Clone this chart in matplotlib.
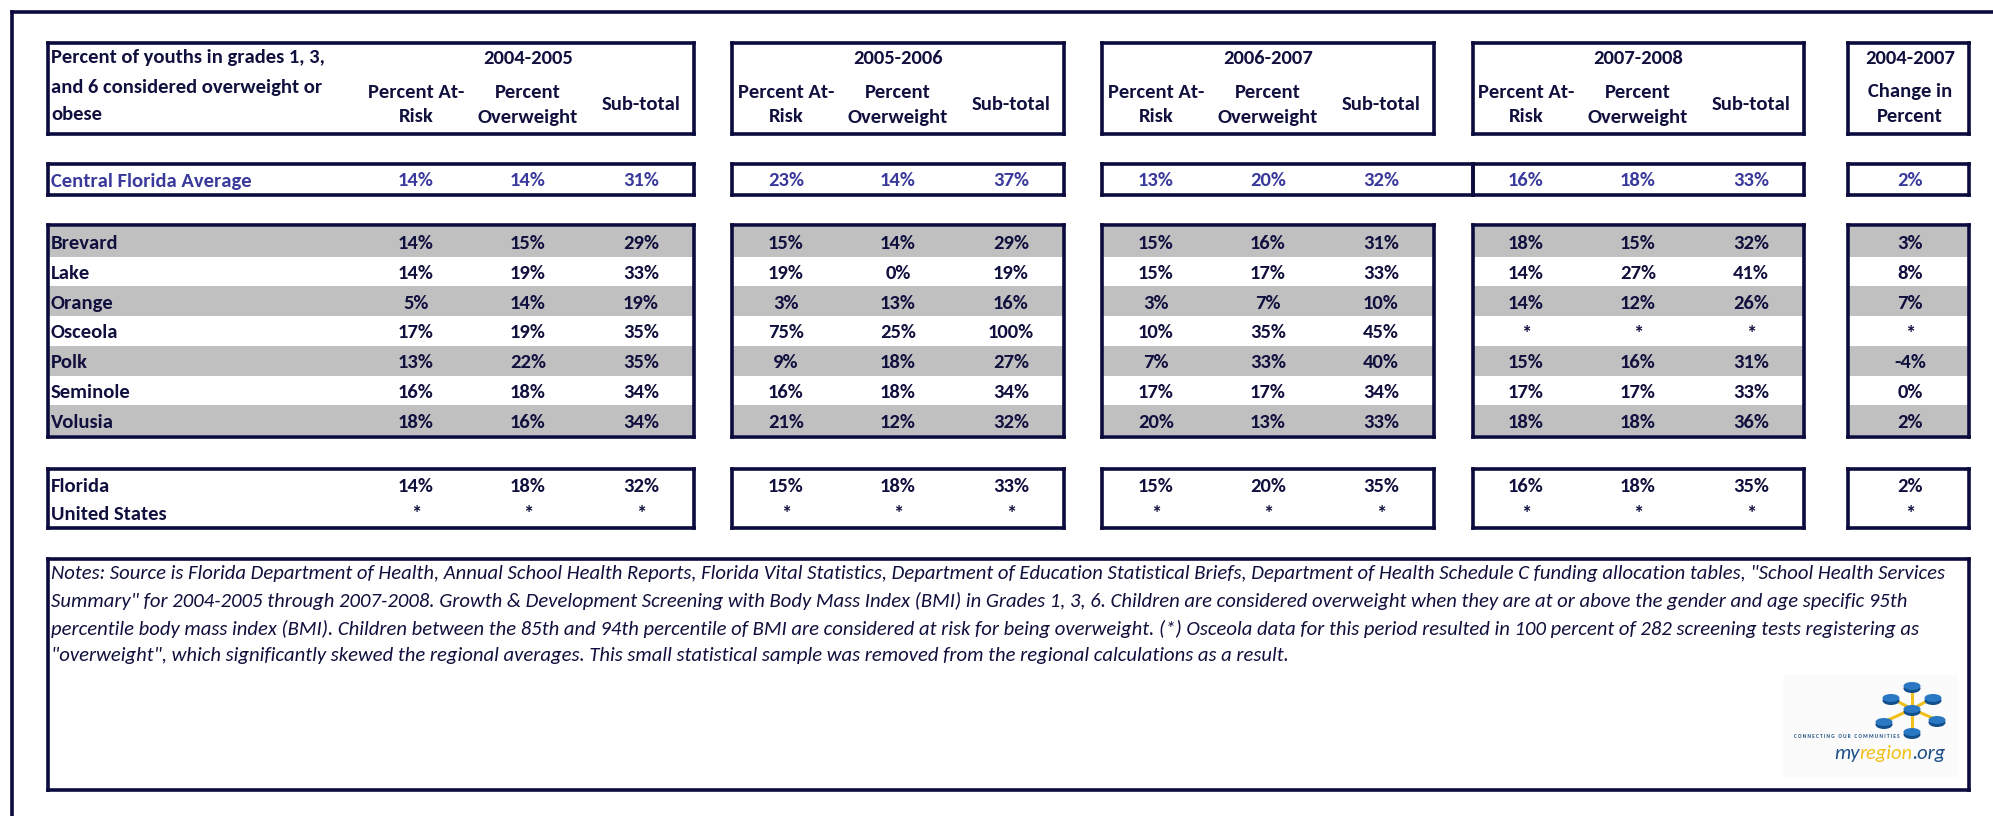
import matplotlib
matplotlib.use("Agg")
import matplotlib.pyplot as plt
from matplotlib.patches import Rectangle, Ellipse
from matplotlib import font_manager

# ---- table content ----
years = ["2004-2005", "2005-2006", "2006-2007", "2007-2008"]
sub_headers = [["Percent At-", "Risk"], ["Percent", "Overweight"], ["Sub-total"]]
change_header = ["2004-2007", "Change in", "Percent"]
title_lines = ["Percent of youths in grades 1, 3,", "and 6 considered overweight or", "obese"]

central_label = "Central Florida Average"
central_values = [["14%", "14%", "31%"], ["23%", "14%", "37%"],
                  ["13%", "20%", "32%"], ["16%", "18%", "33%"]]
central_change = "2%"

counties = ["Brevard", "Lake", "Orange", "Osceola", "Polk", "Seminole", "Volusia"]
county_0405 = [["14%", "15%", "29%"], ["14%", "19%", "33%"], ["5%", "14%", "19%"],
               ["17%", "19%", "35%"], ["13%", "22%", "35%"], ["16%", "18%", "34%"],
               ["18%", "16%", "34%"]]
county_0506 = [["15%", "14%", "29%"], ["19%", "0%", "19%"], ["3%", "13%", "16%"],
               ["75%", "25%", "100%"], ["9%", "18%", "27%"], ["16%", "18%", "34%"],
               ["21%", "12%", "32%"]]
county_0607 = [["15%", "16%", "31%"], ["15%", "17%", "33%"], ["3%", "7%", "10%"],
               ["10%", "35%", "45%"], ["7%", "33%", "40%"], ["17%", "17%", "34%"],
               ["20%", "13%", "33%"]]
county_0708 = [["18%", "15%", "32%"], ["14%", "27%", "41%"], ["14%", "12%", "26%"],
               ["*", "*", "*"], ["15%", "16%", "31%"], ["17%", "17%", "33%"],
               ["18%", "18%", "36%"]]
county_change = ["3%", "8%", "7%", "*", "-4%", "0%", "2%"]

state_labels = ["Florida", "United States"]
state_0405 = [["14%", "18%", "32%"], ["*", "*", "*"]]
state_0506 = [["15%", "18%", "33%"], ["*", "*", "*"]]
state_0607 = [["15%", "20%", "35%"], ["*", "*", "*"]]
state_0708 = [["16%", "18%", "35%"], ["*", "*", "*"]]
state_change = ["2%", "*"]

notes_lines = [
    'Notes: Source is Florida Department of Health, Annual School Health Reports, Florida Vital Statistics, '
    'Department of Education Statistical Briefs, Department of Health Schedule C funding allocation tables, "School Health Services',
    'Summary" for 2004-2005 through 2007-2008. Growth & Development Screening with Body Mass Index (BMI) in Grades 1, 3, 6. '
    'Children are considered overweight when they are at or above the gender and age specific 95th',
    'percentile body mass index (BMI). Children between the 85th and 94th percentile of BMI are considered at risk for being '
    'overweight. (*) Osceola data for this period resulted in 100 percent of 282 screening tests registering as',
    '"overweight", which significantly skewed the regional averages. This small statistical sample was removed from the '
    'regional calculations as a result.',
]

county_by_year = [county_0405, county_0506, county_0607, county_0708]
state_by_year = [state_0405, state_0506, state_0607, state_0708]

# ---- styling ----
navy = "#0b0b3d"
txt = "#10103e"
blue = "#3a3a9c"
gray = "#c0c0c0"
lw = 2.6

names = {f.name for f in font_manager.fontManager.ttflist}
font = "DejaVu Sans"
for cand in ["Carlito", "Liberation Sans Narrow", "Open Sans", "Lato"]:
    if cand in names:
        font = cand
        break
plt.rcParams["font.family"] = [font, "DejaVu Sans"]

fig = plt.figure(figsize=(19.93, 8.16), dpi=100)
ax = fig.add_axes([0, 0, 1, 1])
ax.set_xlim(0, 1993)
ax.set_ylim(816, 0)
ax.axis("off")
renderer = fig.canvas.get_renderer()


def fit_size(s, target, **kw):
    t = ax.text(0, 0, s, fontsize=10, **kw)
    w = t.get_window_extent(renderer).width
    t.remove()
    return 10 * target / w


# box x ranges (year blocks, then change block)
boxes = [(48, 694), (732, 1064), (1102, 1434), (1473, 1804)]
chg_box = (1848, 1969)
col_off = [-278, -166, -53]
chg_x = 1910
label_x = 51

# vertical bands
hdr = (42.5, 134)
cen = (164, 195)
dat = (225, 437)
sta = (468.5, 528)
nts = (558.5, 790)
band_top, band_bot = 227, 435
rh = (band_bot - band_top) / len(counties)

fs = fit_size(central_label, 201, fontweight="bold")


def box(x0, x1, y0, y1):
    for xs, ys in [([x0, x1], [y0, y0]), ([x0, x1], [y1, y1]),
                   ([x0, x0], [y0, y1]), ([x1, x1], [y0, y1])]:
        ax.plot(xs, ys, color=navy, lw=lw, solid_capstyle="projecting")


def ctext(x, y, s, color=txt, ha="center"):
    ax.text(x, y, s, ha=ha, va="center", fontsize=fs, fontweight="bold", color=color)


# outer frame
ax.plot([12, 1993], [12, 12], color=navy, lw=lw)
ax.plot([12, 12], [12, 816], color=navy, lw=lw)

# gray stripes
for i in range(0, len(counties), 2):
    y0 = band_top + i * rh
    for x0, x1 in boxes + [chg_box]:
        ax.add_patch(Rectangle((x0, y0), x1 - x0, rh, facecolor=gray, edgecolor="none"))

# boxes
for k, (x0, x1) in enumerate(boxes + [chg_box]):
    box(x0, x1, *hdr)
    box(x0, x1, *dat)
    box(x0, x1, *sta)
    if k == 2:
        box(x0, boxes[3][0], *cen)
    else:
        box(x0, x1, *cen)

# header text
for y, s in zip([58, 88, 115], title_lines):
    ctext(label_x, y, s, ha="left")
for (x0, x1), yr in zip(boxes, years):
    ctext(x1 + col_off[1], 58, yr)
    for off, lines in zip(col_off, sub_headers):
        if len(lines) == 2:
            ctext(x1 + off, 92, lines[0])
            ctext(x1 + off, 117, lines[1])
        else:
            ctext(x1 + off, 105, lines[0])
ctext(chg_x, 58, change_header[0])
ctext(chg_x, 92, change_header[1])
ctext(chg_x, 117, change_header[2])

# central Florida row
ctext(label_x, 181, central_label, color=blue, ha="left")
for (x0, x1), vals in zip(boxes, central_values):
    for off, v in zip(col_off, vals):
        ctext(x1 + off, 181, v, color=blue)
ctext(chg_x, 181, central_change, color=blue)

# county rows
for i, name in enumerate(counties):
    y = band_top + (i + 0.5) * rh + 2
    ctext(label_x, y, name, ha="left")
    for (x0, x1), rows in zip(boxes, county_by_year):
        for off, v in zip(col_off, rows[i]):
            ctext(x1 + off, y, v)
    ctext(chg_x, y, county_change[i])

# state / nation rows
for i, name in enumerate(state_labels):
    y = [487, 514][i]
    ctext(label_x, y, name, ha="left")
    for (x0, x1), rows in zip(boxes, state_by_year):
        for off, v in zip(col_off, rows[i]):
            ctext(x1 + off, y, v)
    ctext(chg_x, y, state_change[i])

# notes box
box(boxes[0][0], chg_box[1], *nts)
nfs = fit_size(notes_lines[0], 1890, style="italic")
for y, s in zip([573, 601, 629, 656], notes_lines):
    ax.text(label_x, y, s, ha="left", va="center", fontsize=nfs, style="italic", color=txt)

# logo (rough sketch)
ax.add_patch(Rectangle((1783, 675), 175, 102, facecolor="#fbfbfb", edgecolor="none"))
hub = (1912, 709)
nodes = [(1912, 686), (1891, 698), (1933, 698), (1884, 722), (1937, 720), (1912, 732)]
for nx, ny in nodes:
    ax.plot([hub[0], nx], [hub[1], ny], color="#f2c01a", lw=2.2, zorder=3)
for nx, ny in nodes + [hub]:
    ax.add_patch(Ellipse((nx, ny + 2.5), 17, 9, facecolor="#124e8c", edgecolor="none", zorder=4))
    ax.add_patch(Ellipse((nx, ny), 17, 8, facecolor="#2b78c2", edgecolor="none", zorder=5))
tag = "C O N N E C T I N G   O U R   C O M M U N I T I E S"
tfs = fit_size(tag, 103, fontweight="bold")
ax.text(1794, 737, tag, ha="left", va="center", fontsize=tfs,
        fontweight="bold", color="#1d4f86")
lfs = fit_size("myregion.org", 112, style="italic")
xpos = 1834
for piece, col in [("my", "#1d4f86"), ("region", "#f2c01a"), (".org", "#1d4f86")]:
    t = ax.text(xpos, 754, piece, ha="left", va="center", fontsize=lfs, style="italic",
                color=col)
    xpos += t.get_window_extent(renderer).width

fig.savefig("out.png", dpi=100)
